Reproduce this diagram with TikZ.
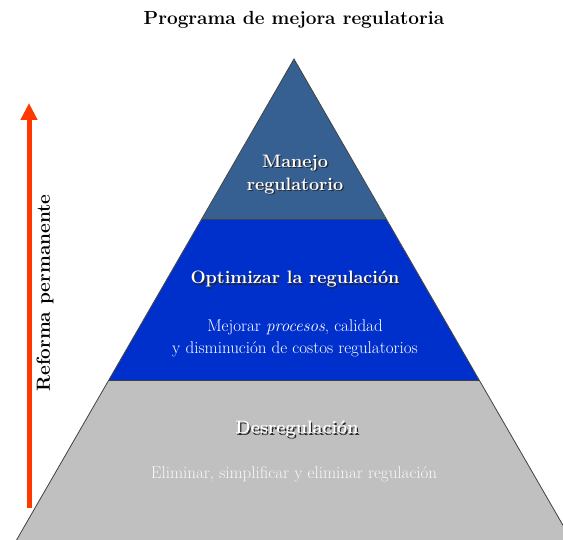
\documentclass[tikz,border=0pt]{standalone}
\usetikzlibrary{positioning, arrows.meta}
\definecolor{topblue}{RGB}{54,96,146}
\definecolor{midblue}{RGB}{0,48,204}
\definecolor{basegray}{RGB}{192,192,192}
\definecolor{arrowred}{RGB}{255,56,0}
\definecolor{paletext}{RGB}{248,248,248}
\newcommand{\shadowed}[1]{\rlap{\hspace{1.3pt}\raisebox{-1.3pt}{\color{black!85}#1}}#1}
\tikzset{
  band/.style={draw=black!75, line width=0.8pt},
  heading/.style={text=white, font=\bfseries\fontsize{18}{23}\selectfont, align=center},
  detail/.style={text=white, font=\fontsize{17}{22}\selectfont, align=center},
  caption/.style={text=black, font=\bfseries\fontsize{19}{22}\selectfont}
}

\begin{document}
\begin{tikzpicture}[x=1pt, y=-1pt]
    \useasboundingbox (0,0) rectangle (563,540);
    \clip (0,0) rectangle (563,540);

    \coordinate (apex) at (294,59);
    \coordinate (tl) at (202,219);
    \coordinate (tr) at (386,219);
    \coordinate (ml) at (109,380);
    \coordinate (mr) at (479,380);
    \coordinate (bl) at (5,560);
    \coordinate (br) at (583,560);

    \fill[basegray] (ml) -- (mr) -- (br) -- (bl) -- cycle;
    \fill[midblue]  (tl) -- (tr) -- (mr) -- (ml) -- cycle;
    \fill[topblue]  (apex) -- (tr) -- (tl) -- cycle;
    \draw[band] (bl) -- (apex) -- (br);
    \draw[band] (tl) -- (tr)
                (ml) -- (mr);

    \node[caption] (title) at (294,20) {Programa de mejora regulatoria};

    \node[heading] (manejo) at (295,175) {\shadowed{Manejo}\\ \shadowed{regulatorio}};
    \node[heading] (optimizar) at (295,280) {\shadowed{Optimizar la regulación}};
    \node[detail] (mejorar) at (295,338) {Mejorar \textit{procesos}, calidad\\ y disminución de costos regulatorios};
    \node[heading] (desreg) at (297,430) {\shadowed{Desregulación}};
    \node[detail, text=paletext] (eliminar) at (294,474) {Eliminar, simplificar y eliminar regulación};

    \coordinate (arrowbot) at (29,508);
    \coordinate (arrowtop) at (29,103);
    \draw[arrowred, line width=5pt, -{Triangle[width=16pt,length=17pt]}] (arrowbot) -- (arrowtop);
    \node[caption, rotate=90] (reforma) at (45,293) {Reforma permanente};
\end{tikzpicture}
\end{document}
